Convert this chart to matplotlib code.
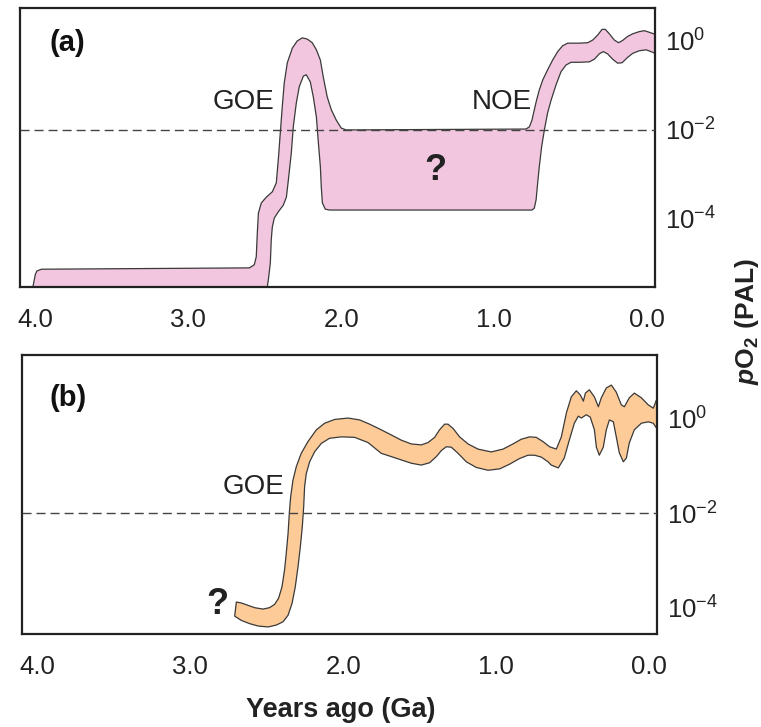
import numpy as np
import matplotlib
matplotlib.use("Agg")
import matplotlib.pyplot as plt
from matplotlib.ticker import NullLocator

plt.rcParams['font.family'] = 'Liberation Sans'
plt.rcParams['mathtext.fontset'] = 'custom'
plt.rcParams['mathtext.rm'] = 'Liberation Sans'
plt.rcParams['mathtext.it'] = 'Liberation Sans:italic:bold'
plt.rcParams['mathtext.bf'] = 'Liberation Sans:bold'
plt.rcParams['mathtext.default'] = 'regular'

# (a) oxygen band: age (Ga) and log10 pO2 (PAL) of the upper and lower edges
a_hi_age = [4.02, 4.00, 3.99, 3.96, 2.601, 2.569, 2.556, 2.549, 2.542, 2.523,
            2.490, 2.451, 2.425, 2.412, 2.399, 2.386, 2.373, 2.353, 2.320, 2.288,
            2.255, 2.222, 2.190, 2.163, 2.137, 2.118, 2.092, 2.065, 2.033, 2.000,
            1.967, 0.793, 0.771, 0.754, 0.739, 0.724, 0.706, 0.684, 0.652, 0.619,
            0.586, 0.554, 0.521, 0.444, 0.390, 0.357, 0.325, 0.296, 0.275, 0.248,
            0.216, 0.188, 0.162, 0.129, 0.096, 0.052, 0.020, -0.008, -0.05]
a_hi_log = [-5.6, -5.25, -5.17, -5.13, -5.10, -5.03, -4.85, -4.31, -3.87, -3.64,
            -3.51, -3.39, -3.19, -2.67, -2.07, -1.48, -0.94, -0.49, -0.16, 0.00,
            0.07, 0.04, -0.04, -0.20, -0.43, -0.81, -1.26, -1.55, -1.78, -1.96,
            -2.00, -1.98, -1.93, -1.78, -1.55, -1.33, -1.10, -0.88, -0.65, -0.43,
            -0.24, -0.11, -0.05, -0.05, -0.04, 0.02, 0.13, 0.26, 0.26, 0.16,
            0.02, -0.04, 0.01, 0.10, 0.16, 0.21, 0.23, 0.20, 0.15]
a_lo_age = [4.02, 2.49, 2.484, 2.477, 2.464, 2.458, 2.451, 2.438, 2.412, 2.379,
            2.359, 2.346, 2.327, 2.314, 2.294, 2.275, 2.248, 2.229, 2.203, 2.183,
            2.163, 2.150, 2.137, 2.131, 2.124, 2.105, 2.078, 0.754, 0.739, 0.727,
            0.717, 0.706, 0.691, 0.673, 0.652, 0.629, 0.597, 0.564, 0.531, 0.499,
            0.444, 0.379, 0.346, 0.314, 0.288, 0.260, 0.227, 0.194, 0.165, 0.129,
            0.096, 0.052, 0.008, -0.024, -0.05]
a_lo_log = [-6.0, -6.0, -5.53, -5.37, -4.99, -4.47, -4.18, -3.98, -3.84, -3.69,
            -3.51, -3.12, -2.52, -1.93, -1.39, -1.03, -0.79, -0.76, -0.92, -1.26,
            -1.71, -2.29, -2.83, -3.28, -3.64, -3.78, -3.80, -3.80, -3.76, -3.57,
            -3.20, -2.82, -2.38, -2.00, -1.62, -1.33, -0.99, -0.69, -0.54, -0.48,
            -0.48, -0.47, -0.41, -0.29, -0.24, -0.29, -0.41, -0.50, -0.49, -0.37,
            -0.28, -0.22, -0.20, -0.24, -0.28]

# (b) oxygen band
b_hi_age = [2.699, 2.667, 2.623, 2.580, 2.525, 2.482, 2.449, 2.423, 2.401, 2.384,
            2.373, 2.361, 2.353, 2.344, 2.329, 2.307, 2.275, 2.231, 2.176, 2.122,
            2.057, 1.969, 1.893, 1.828, 1.752, 1.686, 1.621, 1.556, 1.490, 1.446,
            1.403, 1.371, 1.338, 1.316, 1.283, 1.240, 1.185, 1.120, 1.033, 0.956,
            0.891, 0.837, 0.782, 0.739, 0.695, 0.652, 0.608, 0.575, 0.542, 0.510,
            0.477, 0.451, 0.431, 0.418, 0.392, 0.359, 0.333, 0.314, 0.281, 0.248,
            0.216, 0.183, 0.163, 0.131, 0.098, 0.052, 0.007, -0.026, -0.046, -0.059]
b_hi_log = [-3.89, -3.91, -3.96, -4.01, -4.04, -4.01, -3.94, -3.81, -3.57, -3.21,
            -2.86, -2.43, -2.01, -1.65, -1.30, -1.01, -0.73, -0.48, -0.23, -0.09,
            -0.01, 0.02, -0.02, -0.11, -0.23, -0.34, -0.45, -0.53, -0.55, -0.50,
            -0.39, -0.23, -0.11, -0.11, -0.20, -0.38, -0.53, -0.64, -0.70, -0.64,
            -0.53, -0.43, -0.38, -0.39, -0.48, -0.59, -0.64, -0.38, 0.13, 0.47,
            0.60, 0.51, 0.38, 0.55, 0.62, 0.47, 0.26, 0.45, 0.66, 0.72,
            0.57, 0.30, 0.26, 0.45, 0.55, 0.45, 0.30, 0.23, 0.40, 0.45]
b_lo_age = [2.710, 2.667, 2.612, 2.557, 2.492, 2.438, 2.394, 2.361, 2.335, 2.314,
            2.296, 2.281, 2.268, 2.259, 2.253, 2.242, 2.220, 2.188, 2.144, 2.090,
            2.013, 1.926, 1.839, 1.752, 1.686, 1.621, 1.556, 1.490, 1.436, 1.392,
            1.359, 1.327, 1.294, 1.250, 1.196, 1.131, 1.054, 0.978, 0.913, 0.848,
            0.793, 0.750, 0.706, 0.662, 0.641, 0.595, 0.556, 0.523, 0.490, 0.464,
            0.444, 0.412, 0.386, 0.359, 0.346, 0.327, 0.301, 0.281, 0.261, 0.235,
            0.216, 0.196, 0.170, 0.150, 0.131, 0.098, 0.052, 0.007, -0.026, -0.046,
            -0.059]
b_lo_log = [-4.19, -4.28, -4.35, -4.40, -4.42, -4.38, -4.31, -4.17, -3.92, -3.57,
            -3.14, -2.72, -2.29, -1.87, -1.44, -1.16, -0.91, -0.70, -0.52, -0.41,
            -0.38, -0.39, -0.50, -0.73, -0.80, -0.87, -0.94, -0.98, -0.93, -0.80,
            -0.67, -0.59, -0.60, -0.73, -0.91, -1.03, -1.09, -1.06, -0.96, -0.84,
            -0.77, -0.77, -0.81, -0.91, -0.98, -1.04, -0.83, -0.45, -0.09, 0.06,
            0.02, 0.09, 0.04, -0.23, -0.60, -0.77, -0.60, -0.23, -0.02, -0.06,
            -0.38, -0.72, -0.91, -0.83, -0.51, -0.23, -0.09, -0.06, -0.09, -0.19,
            -0.23]

age_ticks = [4.0, 3.0, 2.0, 1.0, 0.0]
age_labels = ['4.0', '3.0', '2.0', '1.0', '0.0']
po2_ticks = [1e0, 1e-2, 1e-4]
po2_labels = ['10$^{0}$', '10$^{-2}$', '10$^{-4}$']
threshold = 1e-2


def draw_band(ax, hi_age, hi_log, lo_age, lo_log, color):
    xs = list(hi_age) + list(lo_age)[::-1]
    ys = 10.0 ** np.array(list(hi_log) + list(lo_log)[::-1])
    ax.fill(xs, ys, facecolor=color, edgecolor='#3a3a3a', linewidth=0.9,
            joinstyle='round', zorder=2)


fig = plt.figure(figsize=(7.61, 7.27), dpi=100)
ax_a = fig.add_axes([0.0263, 0.6052, 0.8344, 0.3838])
ax_b = fig.add_axes([0.0289, 0.1279, 0.8344, 0.3838])

draw_band(ax_a, a_hi_age, a_hi_log, a_lo_age, a_lo_log, '#f1c6de')
draw_band(ax_b, b_hi_age, b_hi_log, b_lo_age, b_lo_log, '#fccb98')

for ax, ylim in ((ax_a, (10 ** -5.53, 10 ** 0.74)), (ax_b, (10 ** -4.57, 10 ** 1.36))):
    ax.set_yscale('log')
    ax.set_xlim(4.1, -0.05)
    ax.set_ylim(*ylim)
    ax.set_xticks(age_ticks, age_labels)
    ax.set_yticks(po2_ticks, po2_labels)
    ax.yaxis.set_minor_locator(NullLocator())
    ax.yaxis.tick_right()
    ax.tick_params(axis='x', length=0, pad=15, labelsize=18.5, labelcolor='#222222')
    ax.tick_params(axis='y', length=0, pad=7, labelsize=18.5, labelcolor='#222222')
    for s in ax.spines.values():
        s.set_linewidth(1.6)
        s.set_color('#222222')
    ax.axhline(threshold, color='#444444', lw=1.0, dashes=(6.5, 3.6), zorder=3)

ax_a.text(0.047, 0.875, '(a)', transform=ax_a.transAxes, fontsize=21,
          fontweight='bold', ha='left', va='center', color='#111111')
ax_b.text(0.044, 0.846, '(b)', transform=ax_b.transAxes, fontsize=21,
          fontweight='bold', ha='left', va='center', color='#111111')

ax_a.text(2.438, 10 ** -1.37, 'GOE', fontsize=20, ha='right', va='center', color='#222222')
ax_a.text(0.752, 10 ** -1.37, 'NOE', fontsize=20, ha='right', va='center', color='#222222')
ax_a.text(1.386, 10 ** -2.92, '?', fontsize=26, fontweight='bold', ha='center', va='center', color='#222222')
ax_b.text(2.386, 10 ** -1.45, 'GOE', fontsize=20, ha='right', va='center', color='#222222')
ax_b.text(2.824, 10 ** -3.94, '?', fontsize=26, fontweight='bold', ha='center', va='center', color='#222222')

fig.text(341 / 761, 1 - 710 / 727, 'Years ago (Ga)', ha='center', va='center',
         fontsize=19.5, fontweight='bold', color='#222222')
fig.text(747 / 761, 1 - 321 / 727, r'$\mathit{p}\mathbf{O_2\ (PAL)}$', rotation=90,
         ha='center', va='center', fontsize=19, color='#222222')

fig.savefig('out.png', dpi=100, facecolor='white')
